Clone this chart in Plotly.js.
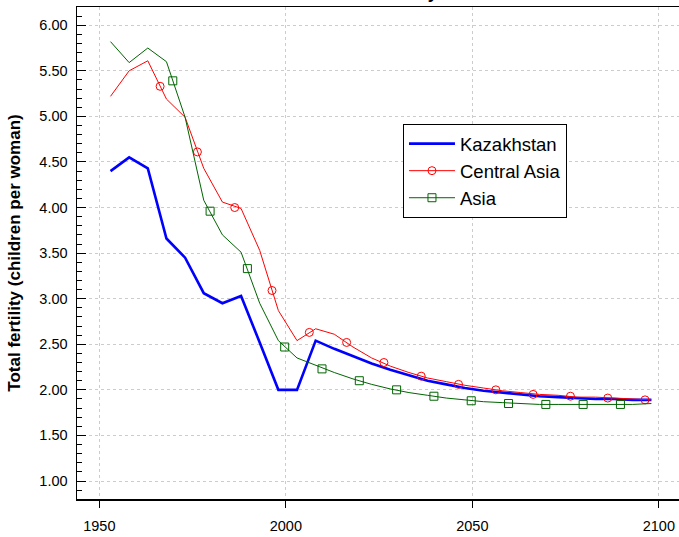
<!DOCTYPE html>
<html>
<head>
<meta charset="utf-8">
<script src="https://cdn.plot.ly/plotly-3.0.1.min.js"></script>
<style>html,body{margin:0;padding:0;background:#fff;}#chart{width:679px;height:537px;}</style>
</head>
<body>
<div id="chart"></div>
<script>
// ---- data ----
const years = [1953,1958,1963,1968,1973,1978,1983,1988,1993,1998,
               2003,2008,2013,2018,2023,2028,2033,2038,2043,2048,
               2053,2058,2063,2068,2073,2078,2083,2088,2093,2098];
const kazakhstan = [4.40,4.55,4.43,3.66,3.45,3.06,2.95,3.03,2.52,2.00,
                    2.00,2.54,2.45,2.37,2.29,2.22,2.16,2.10,2.06,2.02,
                    1.99,1.97,1.95,1.93,1.92,1.91,1.90,1.90,1.89,1.89];
const centralAsia = [5.22,5.50,5.61,5.19,4.99,4.43,4.06,3.99,3.53,2.87,
                     2.54,2.67,2.61,2.47,2.35,2.26,2.19,2.13,2.09,2.05,
                     2.02,1.99,1.97,1.95,1.94,1.92,1.92,1.91,1.90,1.89];
const asia = [5.82,5.59,5.75,5.60,4.99,4.08,3.70,3.51,2.95,2.54,
              2.35,2.27,2.19,2.12,2.06,2.01,1.97,1.94,1.91,1.89,
              1.87,1.86,1.85,1.84,1.84,1.84,1.84,1.84,1.84,1.85];
// marker positions along the lines
const caMarkYears = [1966.3,1976.3,1986.3,1996.3,2006.3,2016.3,2026.3,2036.3,2046.3,2056.3,2066.3,2076.3,2086.3,2096.3];
const caMarkVals  = [5.33,4.61,4.00,3.09,2.63,2.52,2.30,2.15,2.06,2.00,1.95,1.93,1.91,1.89];
const asiaMarkYears = [1969.7,1979.7,1989.7,1999.7,2009.7,2019.7,2029.7,2039.7,2049.7,2059.7,2069.7,2079.7,2089.7];
const asiaMarkVals  = [5.39,3.96,3.33,2.47,2.23,2.10,2.00,1.93,1.88,1.85,1.84,1.84,1.84];
const seriesNames = ['Kazakhstan','Central Asia','Asia'];
const yTitle = 'Total fertility (children per woman)';
const chartTitle = 'Kazakhstan: Total fertility';

const FONT = 'Liberation Sans, Arial, sans-serif';
const BLUE = '#0000ff', RED = '#ff0000', GREEN = '#006400';

const traces = [
  {x: years, y: kazakhstan, mode: 'lines', name: seriesNames[0],
   line: {color: BLUE, width: 2.6}, showlegend: true},
  {x: years, y: centralAsia, mode: 'lines', name: seriesNames[1],
   line: {color: RED, width: 1}, showlegend: false},
  {x: caMarkYears, y: caMarkVals, mode: 'markers', name: seriesNames[1],
   marker: {symbol: 'circle-open', size: 8, color: RED, line: {width: 1, color: RED}}, showlegend: false},
  {x: years, y: asia, mode: 'lines', name: seriesNames[2],
   line: {color: GREEN, width: 1}, showlegend: false},
  {x: asiaMarkYears, y: asiaMarkVals, mode: 'markers', name: seriesNames[2],
   marker: {symbol: 'square-open', size: 8, color: GREEN, line: {width: 1, color: GREEN}}, showlegend: false},
  // legend entries
  {x: [null], y: [null], mode: 'lines+markers', name: seriesNames[1],
   line: {color: RED, width: 1},
   marker: {symbol: 'circle-open', size: 8, color: RED, line: {width: 1, color: RED}}},
  {x: [null], y: [null], mode: 'lines+markers', name: seriesNames[2],
   line: {color: GREEN, width: 1},
   marker: {symbol: 'square-open', size: 8, color: GREEN, line: {width: 1, color: GREEN}}}
];

const layout = {
  width: 679, height: 537,
  margin: {l: 77, r: 0, t: 7, b: 38},
  paper_bgcolor: '#ffffff', plot_bgcolor: '#ffffff',
  font: {family: FONT, size: 14, color: '#000'},
  showlegend: true,
  legend: {x: 0.5415, y: 0.762, xanchor: 'left', yanchor: 'top',
           bordercolor: '#000', borderwidth: 1, bgcolor: '#fff',
           font: {family: FONT, size: 18.5, color: '#000'},
           itemwidth: 46, traceorder: 'normal'},
  xaxis: {
    range: [1944.02, 2105.4], tickmode: 'linear', tick0: 1950, dtick: 50,
    showgrid: true, gridcolor: '#cccccc', griddash: 'dot', gridwidth: 1,
    zeroline: false, showline: true, linecolor: '#000', linewidth: 1.5, mirror: true,
    ticks: 'outside', ticklen: 7, tickcolor: '#000', tickwidth: 1,
    ticklabelstandoff: 6,
    tickfont: {family: FONT, size: 14.5, color: '#000'}
  },
  yaxis: {
    range: [0.8025, 6.2], tickmode: 'linear', tick0: 1, dtick: 0.5, tickformat: '.2f',
    showgrid: true, gridcolor: '#cccccc', griddash: 'dot', gridwidth: 1,
    zeroline: false, showline: true, linecolor: '#000', linewidth: 1.5,
    ticks: 'inside', ticklen: 9, tickcolor: '#000', tickwidth: 1,
    minor: {dtick: 0.1, tick0: 1, ticks: 'inside', ticklen: 5, tickcolor: '#000', tickwidth: 1, showgrid: false},
    ticklabelstandoff: 5,
    tickfont: {family: FONT, size: 14.5, color: '#000'},
    title: {text: '<b>' + yTitle + '</b>', font: {family: FONT, size: 17, color: '#000'}, standoff: 14}
  },
  annotations: [{
    text: '<b>' + chartTitle + '</b>', xref: 'paper', yref: 'paper',
    x: (440 - 77) / 602, y: 1.006, xanchor: 'right', yanchor: 'bottom',
    showarrow: false, font: {family: FONT, size: 18, color: '#000'}
  }]
};

Plotly.newPlot('chart', traces, layout, {displayModeBar: false, staticPlot: true});
</script>
</body>
</html>
